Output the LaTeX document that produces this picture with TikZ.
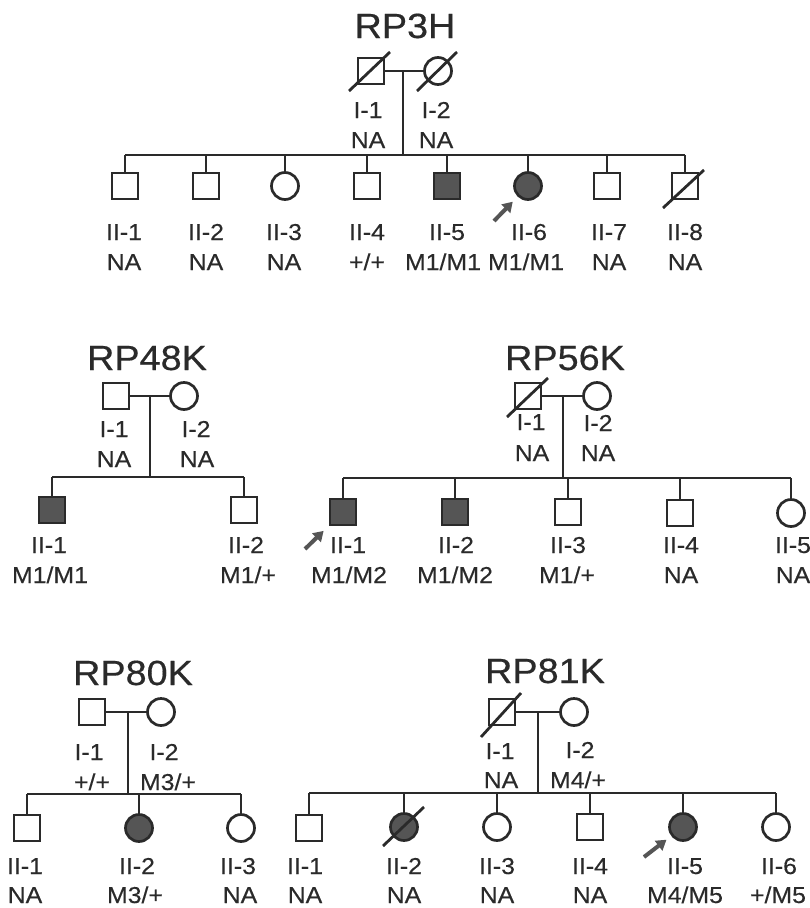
\documentclass[tikz,border=0pt]{standalone}
\usepackage{fontspec}
\setmainfont{Liberation Sans}[FakeStretch=1.08,FakeBold=0.4]
\usetikzlibrary{arrows.meta}
\definecolor{ink}{HTML}{2A2A2A}
\definecolor{aff}{HTML}{555555}
\begin{document}
\begin{tikzpicture}[x=1pt,y=-1pt,
  male/.style={draw=ink, line width=2.7pt, rectangle, minimum size=26pt, inner sep=0pt},
  female/.style={draw=ink, line width=2.7pt, circle, minimum size=27pt, inner sep=0pt},
  affected/.style={fill=aff},
  link/.style={draw=ink, line width=2.7pt},
  dead/.style={draw=ink, line width=2.8pt},
  lab/.style={anchor=base, font=\fontsize{23}{23}\selectfont, text=ink, inner sep=0pt},
  ttl/.style={anchor=base, font=\fontsize{35}{35}\selectfont, text=ink, inner sep=0pt},
  proband/.style={draw=aff, line width=4pt, -{Triangle[length=10pt,width=12pt]}}]
\useasboundingbox (0,0) rectangle (809,908);

% ================= RP3H =================
\node[ttl] (A-t) at (405,38) {RP3H};
\node[male] (A-f) at (371,71) {};
\node[female] (A-m) at (438,71) {};
\draw[dead] ([shift={(-22,20)}]A-f.center) -- ([shift={(19,-19)}]A-f.center);
\draw[dead] ([shift={(-21,20)}]A-m.center) -- ([shift={(19,-19)}]A-m.center);
\draw[link] (A-f) -- (A-m);
\coordinate (A-d) at (403,71);
\coordinate (A-s) at (403,155);
\draw[link] (A-d) -- (A-s);
\node[male] (A-c1) at (125,186) {};
\node[male] (A-c2) at (206,186) {};
\node[female] (A-c3) at (285,186) {};
\node[male] (A-c4) at (367,186) {};
\node[male,affected] (A-c5) at (447,186) {};
\node[female,affected] (A-c6) at (528,186) {};
\node[male] (A-c7) at (607,186) {};
\node[male] (A-c8) at (685,186) {};
\draw[dead] ([shift={(-22,22)}]A-c8.center) -- ([shift={(19,-16)}]A-c8.center);
\draw[link] (A-c1.north |- A-s) -- (A-c8.north |- A-s);
\foreach \k in {1,...,8} {\draw[link] (A-c\k.north |- A-s) -- (A-c\k.north);}
\node[lab] (A-fl) at (368,118) {I-1};
\node[lab] (A-fg) at (368,148) {NA};
\node[lab] (A-ml) at (436,118) {I-2};
\node[lab] (A-mg) at (436,148) {NA};
\node[lab] (A-l1) at (124,240) {II-1};  \node[lab] (A-g1) at (124,270) {NA};
\node[lab] (A-l2) at (206,240) {II-2};  \node[lab] (A-g2) at (206,270) {NA};
\node[lab] (A-l3) at (284,240) {II-3};  \node[lab] (A-g3) at (284,270) {NA};
\node[lab] (A-l4) at (367,240) {II-4};  \node[lab] (A-g4) at (367,270) {+/+};
\node[lab] (A-l5) at (447,240) {II-5};  \node[lab] (A-g5) at (443,270) {M1/M1};
\node[lab] (A-l6) at (529,240) {II-6};  \node[lab] (A-g6) at (526,270) {M1/M1};
\node[lab] (A-l7) at (609,240) {II-7};  \node[lab] (A-g7) at (609,270) {NA};
\node[lab] (A-l8) at (685,240) {II-8};  \node[lab] (A-g8) at (685,270) {NA};
\coordinate (A-p) at (494,221);
\draw[proband, shorten >=7pt] (A-p) -- (A-c6);

% ================= RP48K =================
\node[ttl] (B-t) at (147,370) {RP48K};
\node[male] (B-f) at (116,396) {};
\node[female] (B-m) at (184,396) {};
\draw[link] (B-f) -- (B-m);
\coordinate (B-d) at (150,396);
\coordinate (B-s) at (150,477);
\draw[link] (B-d) -- (B-s);
\node[male,affected] (B-c1) at (52,510) {};
\node[male] (B-c2) at (244,510) {};
\draw[link] (B-c1.north |- B-s) -- (B-c2.north |- B-s);
\foreach \k in {1,2} {\draw[link] (B-c\k.north |- B-s) -- (B-c\k.north);}
\node[lab] (B-fl) at (114,437) {I-1};
\node[lab] (B-fg) at (114,467) {NA};
\node[lab] (B-ml) at (196,437) {I-2};
\node[lab] (B-mg) at (197,467) {NA};
\node[lab] (B-l1) at (49,553) {II-1};  \node[lab] (B-g1) at (50,583) {M1/M1};
\node[lab] (B-l2) at (246,553) {II-2}; \node[lab] (B-g2) at (248,583) {M1/+};

% ================= RP56K =================
\node[ttl] (C-t) at (565,370) {RP56K};
\node[male] (C-f) at (528,396) {};
\node[female] (C-m) at (597,396) {};
\draw[dead] ([shift={(-21,21)}]C-f.center) -- ([shift={(20,-18)}]C-f.center);
\draw[link] (C-f) -- (C-m);
\coordinate (C-d) at (563,396);
\coordinate (C-s) at (563,478);
\draw[link] (C-d) -- (C-s);
\node[male,affected] (C-c1) at (343,512) {};
\node[male,affected] (C-c2) at (455,512) {};
\node[male] (C-c3) at (568,512) {};
\node[male] (C-c4) at (680,513) {};
\node[female] (C-c5) at (791,513) {};
\draw[link] (C-c1.north |- C-s) -- (C-c5.north |- C-s);
\foreach \k in {1,...,5} {\draw[link] (C-c\k.north |- C-s) -- (C-c\k.north);}
\node[lab] (C-fl) at (531,430) {I-1};
\node[lab] (C-fg) at (532,461) {NA};
\node[lab] (C-ml) at (598,431) {I-2};
\node[lab] (C-mg) at (598,461) {NA};
\node[lab] (C-l1) at (348,553) {II-1}; \node[lab] (C-g1) at (349,583) {M1/M2};
\node[lab] (C-l2) at (456,553) {II-2}; \node[lab] (C-g2) at (455,583) {M1/M2};
\node[lab] (C-l3) at (568,553) {II-3}; \node[lab] (C-g3) at (567,583) {M1/+};
\node[lab] (C-l4) at (681,553) {II-4}; \node[lab] (C-g4) at (681,583) {NA};
\node[lab] (C-l5) at (793,553) {II-5}; \node[lab] (C-g5) at (793,583) {NA};
\coordinate (C-p) at (305,549);
\draw[proband, shorten >=7pt] (C-p) -- (C-c1);

% ================= RP80K =================
\node[ttl] (D-t) at (133,685) {RP80K};
\node[male] (D-f) at (92,712) {};
\node[female] (D-m) at (161,712) {};
\draw[link] (D-f) -- (D-m);
\coordinate (D-d) at (128,712);
\coordinate (D-s) at (128,794);
\draw[link] (D-d) -- (D-s);
\node[male] (D-c1) at (27,828) {};
\node[female,affected] (D-c2) at (139,828) {};
\node[female] (D-c3) at (241,828) {};
\draw[link] (D-c1.north |- D-s) -- (D-c3.north |- D-s);
\foreach \k in {1,2,3} {\draw[link] (D-c\k.north |- D-s) -- (D-c\k.north);}
\node[lab] (D-fl) at (89,760) {I-1};
\node[lab] (D-fg) at (92,790) {+/+};
\node[lab] (D-ml) at (164,760) {I-2};
\node[lab] (D-mg) at (168,790) {M3/+};
\node[lab] (D-l1) at (25,874) {II-1};  \node[lab] (D-g1) at (25,903) {NA};
\node[lab] (D-l2) at (137,874) {II-2}; \node[lab] (D-g2) at (135,903) {M3/+};
\node[lab] (D-l3) at (238,874) {II-3}; \node[lab] (D-g3) at (240,903) {NA};

% ================= RP81K =================
\node[ttl] (E-t) at (545,683) {RP81K};
\node[male] (E-f) at (502,712) {};
\node[female] (E-m) at (574,712) {};
\draw[dead] ([shift={(-21,25)}]E-f.center) -- ([shift={(19,-19)}]E-f.center);
\draw[link] (E-f) -- (E-m);
\coordinate (E-d) at (538,712);
\coordinate (E-s) at (538,793);
\draw[link] (E-d) -- (E-s);
\node[male] (E-c1) at (309,828) {};
\node[female,affected] (E-c2) at (404,827) {};
\node[female] (E-c3) at (497,827) {};
\node[male] (E-c4) at (590,827) {};
\node[female,affected] (E-c5) at (683,827) {};
\node[female] (E-c6) at (776,827) {};
\draw[dead] ([shift={(-21,19)}]E-c2.center) -- ([shift={(20,-20)}]E-c2.center);
\draw[link] (E-c1.north |- E-s) -- (E-c6.north |- E-s);
\foreach \k in {1,...,6} {\draw[link] (E-c\k.north |- E-s) -- (E-c\k.north);}
\node[lab] (E-fl) at (500,759) {I-1};
\node[lab] (E-fg) at (501,788) {NA};
\node[lab] (E-ml) at (580,758) {I-2};
\node[lab] (E-mg) at (578,788) {M4/+};
\node[lab] (E-l1) at (305,874) {II-1}; \node[lab] (E-g1) at (305,903) {NA};
\node[lab] (E-l2) at (404,874) {II-2}; \node[lab] (E-g2) at (404,903) {NA};
\node[lab] (E-l3) at (497,874) {II-3}; \node[lab] (E-g3) at (497,903) {NA};
\node[lab] (E-l4) at (590,874) {II-4}; \node[lab] (E-g4) at (590,903) {NA};
\node[lab] (E-l5) at (685,874) {II-5}; \node[lab] (E-g5) at (685,903) {M4/M5};
\node[lab] (E-l6) at (779,874) {II-6}; \node[lab] (E-g6) at (778,903) {+/M5};
\coordinate (E-p) at (644,857);
\draw[proband, shorten >=6pt] (E-p) -- (E-c5);
\end{tikzpicture}
\end{document}
